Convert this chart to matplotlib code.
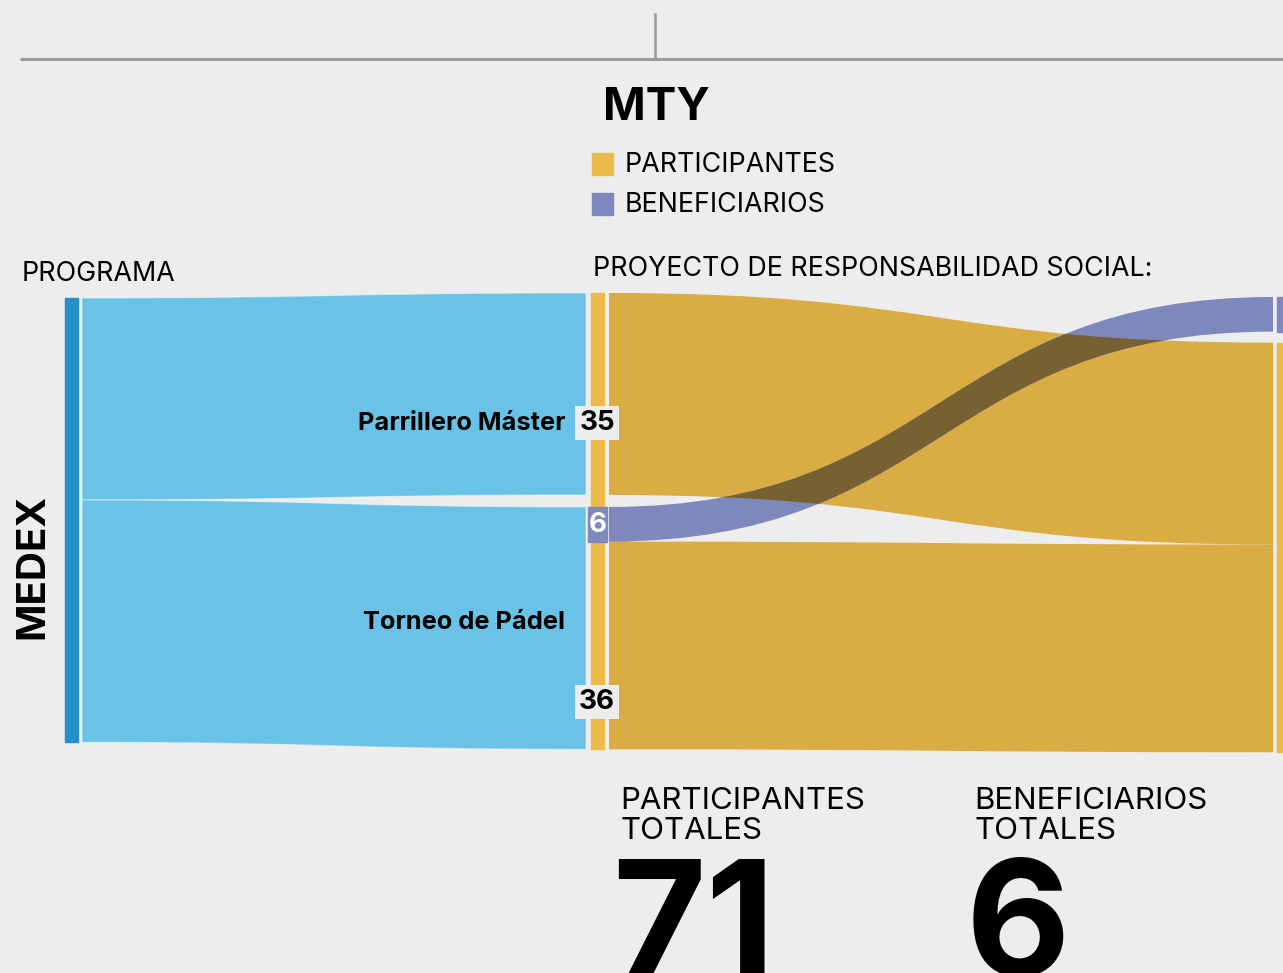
import matplotlib
matplotlib.use("Agg")
import matplotlib.pyplot as plt
from matplotlib.path import Path
from matplotlib.patches import PathPatch, Rectangle

# data
source = "MEDEX"
programs = ["Parrillero Máster", "Torneo de Pádel"]
participantes = [35, 36]
beneficiarios = [0, 6]
region = "MTY"
legend_labels = ["PARTICIPANTES", "BENEFICIARIOS"]

BG = "#ededed"
C_SRC = "#2390c8"
C_PROG = "#6ac3e6"
C_PART = "#d9ac44"
C_PART_NODE = "#ebbb4a"
C_BEN = "#7f88bd"
C_OVER = "#776133"

plt.rcParams["font.family"] = ["Inter", "DejaVu Sans"]

fig = plt.figure(figsize=(12.83, 9.73), dpi=100, facecolor=BG)
ax = fig.add_axes([0, 0, 1, 1])
ax.set_xlim(0, 1283)
ax.set_ylim(973, 0)
ax.axis("off")
ax.set_facecolor(BG)

S = 5.77      # px per unit
GAP = 12


def band(x0, y0t, y0b, x1, y1t, y1b, color, z=1, **kw):
    xm = (x0 + x1) / 2
    verts = [(x0, y0t), (xm, y0t), (xm, y1t), (x1, y1t),
             (x1, y1b), (xm, y1b), (xm, y0b), (x0, y0b), (x0, y0t)]
    codes = [Path.MOVETO, Path.CURVE4, Path.CURVE4, Path.CURVE4,
             Path.LINETO, Path.CURVE4, Path.CURVE4, Path.CURVE4, Path.CLOSEPOLY]
    kw.setdefault("edgecolor", "none")
    p = PathPatch(Path(verts, codes), facecolor=color, zorder=z, **kw)
    ax.add_patch(p)
    return p


# header rule
ax.plot([20, 1283], [59, 59], color="#9a9a9a", lw=2.2, solid_capstyle="butt")
ax.plot([655, 655], [14, 59], color="#9a9a9a", lw=1.8)

ax.text(603, 108, region, fontsize=33, fontweight="bold", va="center", ha="left")
for i, (lab, col) in enumerate(zip(legend_labels, [C_PART_NODE, C_BEN])):
    y = 164 + 40 * i
    ax.add_patch(Rectangle((592, y - 11), 21, 22, color=col))
    ax.text(625, y + 1, lab, fontsize=19.3, va="center", ha="left")

ax.text(22, 274, "PROGRAMA", fontsize=19.3, va="center", ha="left")
ax.text(593, 269, "PROYECTO DE RESPONSABILIDAD SOCIAL:", fontsize=19.3,
        va="center", ha="left")

# left: source -> programs
prog_tot = [p + b for p, b in zip(participantes, beneficiarios)]
total = sum(prog_tot)
src_top = 298
ax.add_patch(Rectangle((65, src_top), 13, total * S, color=C_SRC))
ax.text(33, 566, source, fontsize=29, fontweight="bold",
        rotation=90, va="center", ha="center")

mid_top = 293
yl = src_top
yr = mid_top
prog_span = []
for name, v in zip(programs, prog_tot):
    h = v * S
    band(82, yl, yl + h, 586, yr, yr + h, C_PROG, edgecolor=(1, 1, 1, 0.45), lw=0.8)
    prog_span.append((yr, yr + h))
    yl += h
    yr += h + GAP

label_dy = [30, -6]
for i, (name, (t, b)) in enumerate(zip(programs, prog_span)):
    ax.text(565, (t + b) / 2 + label_dy[i], name, fontsize=18.3,
            fontweight="bold", va="center", ha="right")

# middle node
ax.add_patch(Rectangle((591, mid_top), 13, prog_span[-1][1] - mid_top, color=C_PART_NODE))

# right nodes
right_top = 297
ben_tot = sum(beneficiarios)
part_tot = sum(participantes)
ben_node = (right_top, right_top + ben_tot * S)
part_node_top = ben_node[1] + 11
ax.add_patch(Rectangle((1277, ben_node[0]), 8, ben_tot * S, color=C_BEN))
ax.add_patch(Rectangle((1277, part_node_top), 8, part_tot * S, color=C_PART_NODE))

# middle -> right flows
yp = part_node_top
yb = ben_node[0]
part_patches = []
ben_items = []
val_dy = [72, 47]
for i, ((t, b), p, bv) in enumerate(zip(prog_span, participantes, beneficiarios)):
    y = t
    if bv:
        h = bv * S
        ben_items.append((y, h, yb, bv))
        yb += h
        y += h
    h = p * S
    pp = band(609, y, y + h, 1273, yp, yp + h, C_PART, z=1)
    part_patches.append(pp)
    ax.text(597, y + h - val_dy[i], str(p), fontsize=20, fontweight="bold",
            va="center", ha="center",
            bbox=dict(boxstyle="square,pad=0.15", fc=BG, ec="none"), zorder=5)
    yp += h

for (y, h, yr_, bv) in ben_items:
    band(609, y, y + h, 1273, yr_, yr_ + h, C_BEN, z=2)
    for pp in part_patches:
        ov = band(609, y, y + h, 1273, yr_, yr_ + h, C_OVER, z=3)
        ov.set_clip_path(pp)
    ax.add_patch(Rectangle((588, y), 19, h, color=C_BEN, zorder=4))
    ax.text(597.5, y + h / 2 + 1, str(bv), fontsize=20, fontweight="bold",
            color="white", va="center", ha="center", zorder=5)

# totals
ax.text(620, 816, "PARTICIPANTES\nTOTALES", fontsize=22.5, va="center", ha="left",
        linespacing=1.12)
ax.text(974, 816, "BENEFICIARIOS\nTOTALES", fontsize=22.5, va="center", ha="left",
        linespacing=1.12)
big = dict(fontsize=116, fontweight="bold", va="top", ha="left")
ax.text(612, 858, str(part_tot), **big)
ax.text(966, 858, str(ben_tot), **big)

fig.savefig("out.png", dpi=100, facecolor=BG)
